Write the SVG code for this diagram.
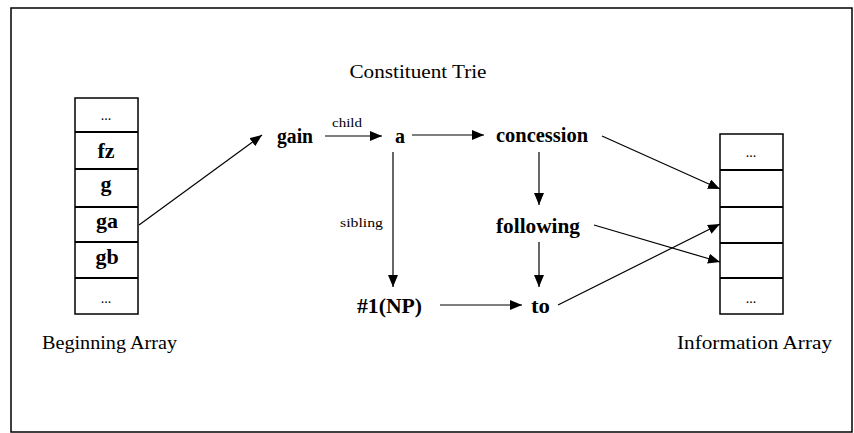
<svg xmlns="http://www.w3.org/2000/svg" width="854" height="433" viewBox="0 0 854 433">
<defs>
<marker id="ah" markerUnits="userSpaceOnUse" markerWidth="12" markerHeight="10" viewBox="0 0 12 10" refX="12" refY="5" orient="auto">
<path d="M0,0 L12,5 L0,10 Z" fill="#000"/>
</marker>
<style>
.t{font-family:"Liberation Serif","Times New Roman",serif;fill:#000}
.b{font-weight:bold;font-size:20px}
.cell{font-weight:bold;font-size:22px}
.lab{font-size:19px}
.sm{font-size:13px}
.dots{font-size:14px}
.box{fill:#fff;stroke:#000;stroke-width:1.5}
.div{stroke:#000;stroke-width:2.2}
.c{fill:none;stroke:#000;stroke-width:1.2;marker-end:url(#ah)}
</style>
</defs>
<rect x="0" y="0" width="854" height="433" fill="#fff"/>
<rect x="11" y="8" width="841" height="424" fill="none" stroke="#000" stroke-width="1.5"/>
<text class="t lab" x="418" y="78" text-anchor="middle" textLength="137" lengthAdjust="spacingAndGlyphs">Constituent Trie</text>

<g id="beginning-array">
<rect class="box" x="75" y="98" width="63" height="216"/>
<line class="div" x1="75" y1="132" x2="138" y2="132"/>
<line class="div" x1="75" y1="169" x2="138" y2="169"/>
<line class="div" x1="75" y1="207" x2="138" y2="207"/>
<line class="div" x1="75" y1="242" x2="138" y2="242"/>
<line class="div" x1="75" y1="278" x2="138" y2="278"/>
<text class="t dots" x="106" y="120" text-anchor="middle">...</text>
<text class="t cell" x="106" y="158" text-anchor="middle">fz</text>
<text class="t cell" x="106" y="191" text-anchor="middle">g</text>
<text class="t cell" x="107" y="228" text-anchor="middle">ga</text>
<text class="t cell" x="107" y="264" text-anchor="middle">gb</text>
<text class="t dots" x="106" y="303" text-anchor="middle">...</text>
<text class="t lab" x="42" y="349" textLength="135" lengthAdjust="spacingAndGlyphs">Beginning Array</text>
</g>

<g id="information-array">
<rect class="box" x="720" y="134" width="63" height="180"/>
<line class="div" x1="720" y1="170" x2="783" y2="170"/>
<line class="div" x1="720" y1="207" x2="783" y2="207"/>
<line class="div" x1="720" y1="243" x2="783" y2="243"/>
<line class="div" x1="720" y1="278" x2="783" y2="278"/>
<text class="t dots" x="751" y="157" text-anchor="middle">...</text>
<text class="t dots" x="751" y="303" text-anchor="middle">...</text>
<text class="t lab" x="677" y="349" textLength="155" lengthAdjust="spacingAndGlyphs">Information Array</text>
</g>

<g id="node-gain"><text class="t b" x="277" y="143" textLength="36" lengthAdjust="spacingAndGlyphs">gain</text></g>
<g id="node-a"><text class="t b" x="395" y="143">a</text></g>
<g id="node-concession"><text class="t b" x="496" y="142" textLength="92" lengthAdjust="spacingAndGlyphs">concession</text></g>
<g id="node-following"><text class="t b" x="496" y="233" textLength="84" lengthAdjust="spacingAndGlyphs">following</text></g>
<g id="node-np"><text class="t b" x="357" y="313" textLength="65" lengthAdjust="spacingAndGlyphs">#1(NP)</text></g>
<g id="node-to"><text class="t b" x="531" y="313" textLength="19" lengthAdjust="spacingAndGlyphs">to</text></g>

<g id="connectors">
<line class="c" x1="139" y1="225" x2="262" y2="135"/>
<line class="c" x1="325" y1="136" x2="382" y2="136"/>
<line class="c" x1="412" y1="135" x2="484" y2="135"/>
<line class="c" x1="393" y1="152" x2="393" y2="287"/>
<line class="c" x1="539" y1="152" x2="539" y2="205"/>
<line class="c" x1="539" y1="242" x2="539" y2="287"/>
<line class="c" x1="440" y1="305" x2="522" y2="305"/>
<line class="c" x1="602" y1="136" x2="720" y2="189"/>
<line class="c" x1="594" y1="225" x2="720" y2="262"/>
<line class="c" x1="558" y1="305" x2="720" y2="224"/>
<text class="t sm" x="332" y="127" textLength="30" lengthAdjust="spacingAndGlyphs">child</text>
<text class="t sm" x="340" y="227" textLength="43" lengthAdjust="spacingAndGlyphs">sibling</text>
</g>
</svg>
